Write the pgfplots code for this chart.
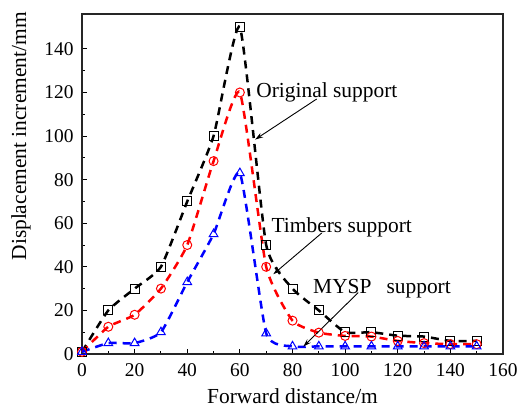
\documentclass[border=0pt]{standalone}
\usepackage{fontspec}
\setmainfont{Liberation Serif}
\usepackage{pgfplots}
\pgfplotsset{compat=1.18}
\usetikzlibrary{arrows.meta}

\pgfplotstableread{
x   orig  timb  mysp
0   1     1     1
10  20    12.5  5
20  30    18    5
30  40    30    10
40  70    50    33
50  100   88.5  55
60  150   120   83
70  50    40    9.5
80  30    15.3  3.5
90  20    9.8   3.5
100 10    8.3   3.5
110 10    8     3.5
120 8.4   6     3.5
130 8     5     3.5
140 6     4.5   3.5
150 6     4.5   3.5
}\disptable

\begin{document}
\begin{tikzpicture}
\useasboundingbox (-82bp,-56bp) rectangle (438bp,354bp);
\begin{axis}[
  at={(0,0)}, anchor=south west,
  scale only axis, width=421bp, height=340bp,
  xmin=0, xmax=160, ymin=0, ymax=156,
  xtick={0,20,...,160}, ytick={0,20,...,140},
  minor x tick num=1, minor y tick num=1,
  xtick pos=left, ytick pos=left,
  tick align=inside,
  major tick length=5bp, minor tick length=3bp,
  axis line style={line width=1.3bp, black!85},
  every tick/.style={line width=1bp, black},
  /pgf/number format/assume math mode=true,
  tick label style={font=\fontsize{19.5}{22}\selectfont},
  xticklabel style={yshift=-6bp},
  yticklabel style={xshift=-5bp},
  xlabel={Forward distance/m},
  ylabel={Displacement increment/mm},
  label style={font=\fontsize{21.5}{24}\selectfont},
  xlabel style={at={(axis description cs:0.5,-0.125)}, anchor=center},
  ylabel style={at={(axis description cs:-0.145,0.64)}, anchor=center},
  clip=false,
  every axis plot/.append style={smooth, tension=0.3, line width=2.5bp,
    dash pattern=on 8bp off 6bp,
    mark options={solid, line width=1bp, fill=none}},
]
\addplot[black, mark=square, mark size=4.5bp] table[x=x, y=orig] {\disptable};
\addplot[red, mark=o, mark size=4.5bp] table[x=x, y=timb] {\disptable};
\addplot[blue, mark=triangle, mark size=5bp] table[x=x, y=mysp] {\disptable};

% annotations with pointers
\begin{scope}[every node/.style={font=\fontsize{21.5}{24}\selectfont, inner sep=0pt}]
\node[anchor=base west] at (axis cs:66.2,117.7) {Original support};
\node[anchor=base west] at (axis cs:72.0,55.8) {Timbers support};
\node[anchor=base west] at (axis cs:87.8,27.9) {MYSP\hspace{15bp}support};
\end{scope}
\begin{scope}[-{Stealth[length=8bp,width=5bp]}, line width=0.9bp]
\draw (axis cs:89.2,117) -- (axis cs:65.8,98.4);
\draw (axis cs:91.1,55.5) -- (axis cs:72.7,36.6);
\draw (axis cs:105,28.2) -- (axis cs:84.1,3.4);
\end{scope}
\end{axis}
\end{tikzpicture}
\end{document}
